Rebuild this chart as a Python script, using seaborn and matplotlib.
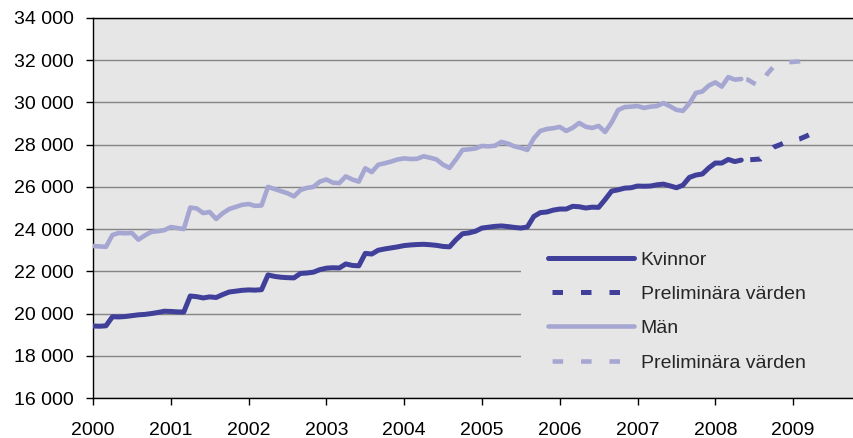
import numpy as np
import pandas as pd
import matplotlib
matplotlib.use("Agg")
import matplotlib.pyplot as plt
from matplotlib.ticker import FuncFormatter
from matplotlib.lines import Line2D
from matplotlib.patches import Rectangle
import seaborn as sns

# ---------------- data ----------------
start_year = 2000
# monthly values, Jan 2000 onwards (solid series)
kvinnor = [19410, 19400, 19420, 19850, 19840, 19860, 19900, 19940, 19960, 20000,
           20050, 20110, 20100, 20080, 20070, 20830, 20800, 20740, 20790, 20760,
           20900, 21020, 21060, 21100, 21120, 21110, 21130, 21830, 21760, 21720,
           21700, 21690, 21900, 21920, 21960, 22080, 22150, 22170, 22160, 22350,
           22280, 22260, 22850, 22820, 23000, 23060, 23110, 23160, 23220, 23250,
           23270, 23280, 23260, 23230, 23180, 23160, 23500, 23780, 23820, 23900,
           24050, 24090, 24130, 24150, 24120, 24080, 24050, 24100, 24600, 24780,
           24810, 24900, 24950, 24950, 25080, 25060, 25000, 25040, 25030, 25400,
           25800, 25860, 25940, 25960, 26040, 26030, 26040, 26100, 26130, 26050,
           25960, 26080, 26450, 26560, 26610, 26900, 27130, 27130, 27300, 27200,
           27270]
man = [23200, 23180, 23160, 23720, 23820, 23800, 23820, 23500, 23700, 23870,
       23900, 23950, 24100, 24050, 24000, 25020, 24980, 24760, 24810, 24480,
       24750, 24950, 25050, 25150, 25190, 25100, 25120, 26000, 25900, 25800,
       25700, 25550, 25850, 25950, 26000, 26250, 26350, 26200, 26180, 26500,
       26350, 26250, 26880, 26700, 27050, 27120, 27200, 27300, 27350, 27320,
       27330, 27450, 27380, 27300, 27050, 26900, 27300, 27750, 27780, 27820,
       27940, 27920, 27950, 28130, 28050, 27920, 27850, 27750, 28300, 28650,
       28740, 28780, 28840, 28650, 28800, 29030, 28850, 28790, 28890, 28600,
       29050, 29640, 29780, 29800, 29830, 29740, 29800, 29830, 29970, 29820,
       29650, 29600, 29950, 30450, 30520, 30800, 30950, 30750, 31200, 31080,
       31110]
# preliminary values (start at the last solid month)
kvinnor_prel = [27270, 27280, 27300, 27320, 27600, 27880, 28000, 28140, 28200,
                28270, 28400, 28550]
man_prel = [31110, 31080, 30900, 30750, 31350, 31700, 31870, 31900, 31920,
            31950, 32080, 32150]

series_labels = ["Kvinnor", "Preliminära värden", "Män", "Preliminära värden"]
year_ticks = list(range(2000, 2010))
y_ticks = list(range(16000, 34001, 2000))

# ---------------- build frames ----------------
n_solid = len(kvinnor)
t_solid = start_year + np.arange(n_solid) / 12.0
t_prel = start_year + (n_solid - 1 + np.arange(len(kvinnor_prel))) / 12.0

df_solid = pd.DataFrame({"t": t_solid, "Kvinnor": kvinnor, "Män": man})
df_prel = pd.DataFrame({"t": t_prel, "Kvinnor": kvinnor_prel, "Män": man_prel})

# ---------------- style ----------------
sns.set_style("white")
plt.rcParams["font.family"] = ["Liberation Sans", "DejaVu Sans"]

dark = "#40409a"
light = "#a6a6d2"
bg = "#e6e6e6"

fig = plt.figure(figsize=(8.54, 4.38), dpi=100)
ax = fig.add_axes([93 / 854, 1 - 398 / 438, 760 / 854, 380 / 438])
ax.set_facecolor(bg)

lw_d = 3.6
lw_l = 3.3
dash_d = (3.7, (2.1, 3.4))
dash_l = (5.1, (2.3, 3.9))
leg_dash_d = (4.9, (2.1, 3.6))
leg_dash_l = (5.3, (2.3, 3.9))

sns.lineplot(data=df_solid, x="t", y="Män", ax=ax, color=light, linewidth=lw_l,
             errorbar=None, sort=False, zorder=3)
sns.lineplot(data=df_prel, x="t", y="Män", ax=ax, color=light, linewidth=lw_l,
             linestyle=dash_l, errorbar=None, sort=False, zorder=3)
sns.lineplot(data=df_solid, x="t", y="Kvinnor", ax=ax, color=dark, linewidth=lw_d,
             errorbar=None, sort=False, zorder=4)
sns.lineplot(data=df_prel, x="t", y="Kvinnor", ax=ax, color=dark, linewidth=lw_d,
             linestyle=dash_d, errorbar=None, sort=False, zorder=4)

ax.set_xlim(2000, 2009.77)
ax.set_ylim(16000, 34000)
ax.set_xticks(year_ticks)
ax.set_xticklabels([str(y) for y in year_ticks])
ax.set_yticks(y_ticks)
ax.yaxis.set_major_formatter(FuncFormatter(lambda v, p: f"{int(v):,}".replace(",", " ")))
ax.set_xlabel("")
ax.set_ylabel("")

ax.grid(axis="y", color="#858585", linewidth=1.0, zorder=1)
ax.grid(axis="x", visible=False)
ax.set_axisbelow(True)

for s in ["left", "bottom", "top"]:
    ax.spines[s].set_visible(True)
    ax.spines[s].set_color("black")
    ax.spines[s].set_linewidth(1.0)
ax.spines["right"].set_visible(False)

ax.tick_params(axis="both", which="major", direction="out", length=5, width=1,
               color="black", labelsize=14, labelcolor="black",
               left=True, bottom=True)
ax.tick_params(axis="y", pad=9)
ax.tick_params(axis="x", pad=12)

# legend background panel (hides the gridlines behind the legend)
ax.add_patch(Rectangle(((521 - 93) / 760, (398 - 386) / 380), 1 - (521 - 93) / 760,
                       (386 - 240) / 380, transform=ax.transAxes,
                       facecolor=bg, edgecolor="none", zorder=2))

handles = [
    Line2D([0], [0], color=dark, linewidth=lw_d),
    Line2D([0], [0], color=dark, linewidth=lw_d, linestyle=leg_dash_d),
    Line2D([0], [0], color=light, linewidth=lw_l),
    Line2D([0], [0], color=light, linewidth=lw_l, linestyle=leg_dash_l),
]
leg = ax.legend(handles, series_labels, loc="upper left",
                bbox_to_anchor=((548 - 93) / 760, (398 - 251) / 380),
                frameon=False, fontsize=14, handlelength=4.4, handletextpad=0.36,
                labelspacing=0.86, borderpad=0, borderaxespad=0)
leg.set_zorder(5)

fig.savefig("out.png", dpi=100)
